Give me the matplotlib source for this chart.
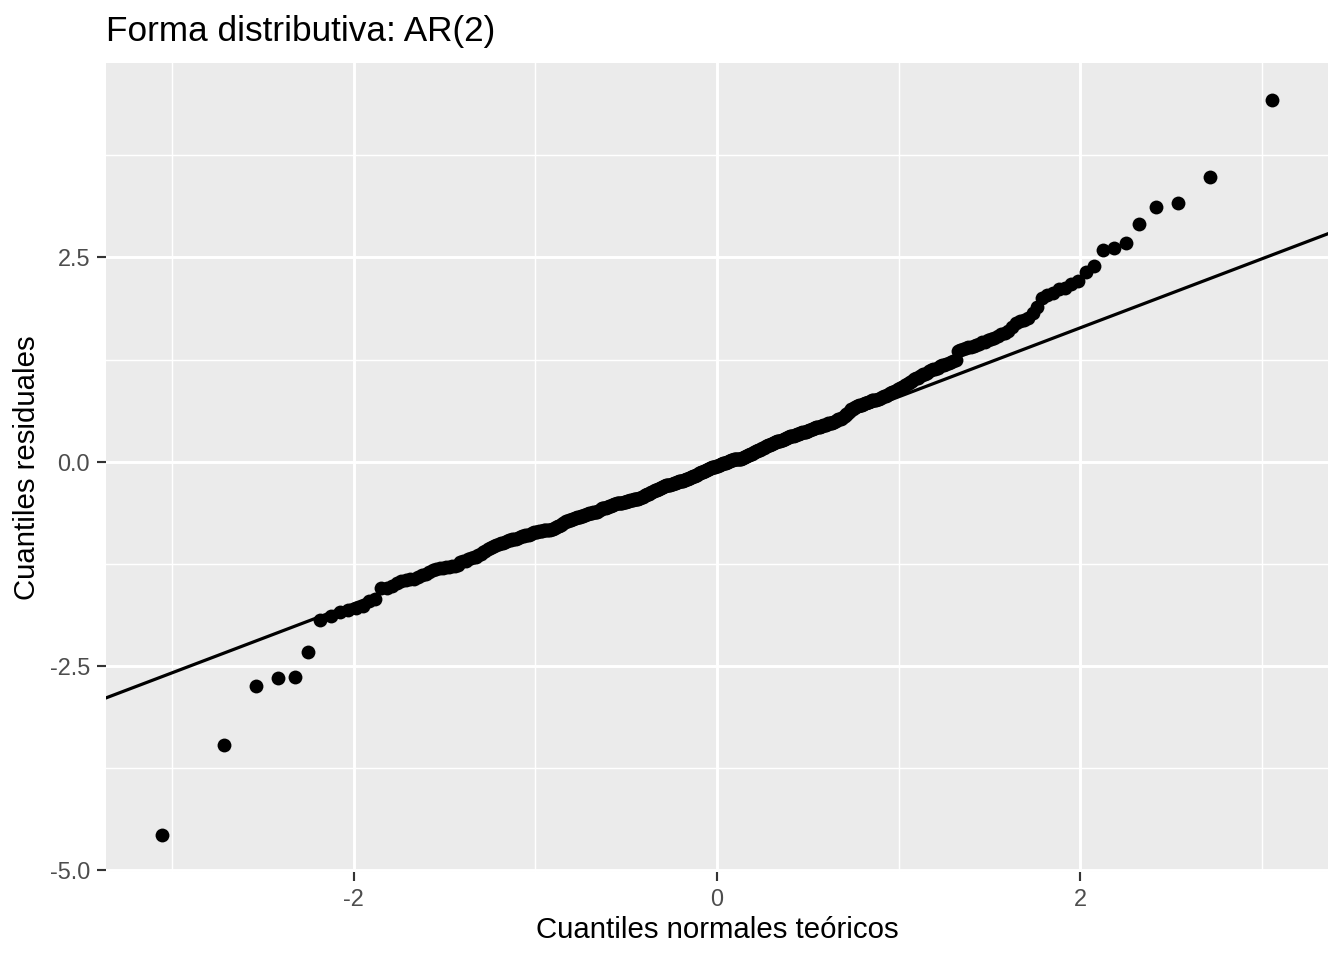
import matplotlib
matplotlib.use("Agg")
import matplotlib.pyplot as plt
import numpy as np
from statistics import NormalDist

# ---- data (sorted residuals) ----
residuales = [
    -4.57, -3.46, -2.74, -2.65, -2.63, -2.33, -1.94, -1.89, -1.84, -1.81,
    -1.79, -1.77, -1.70, -1.68, -1.55, -1.54, -1.52, -1.48, -1.46, -1.45,
    -1.44, -1.43, -1.41, -1.39, -1.37, -1.35, -1.33, -1.31, -1.30, -1.30,
    -1.29, -1.29, -1.28, -1.28, -1.26, -1.23, -1.22, -1.21, -1.19, -1.18,
    -1.17, -1.16, -1.14, -1.13, -1.11, -1.09, -1.07, -1.06, -1.04, -1.03,
    -1.02, -1.01, -1.00, -0.99, -0.98, -0.97, -0.96, -0.96, -0.95, -0.94,
    -0.94, -0.93, -0.92, -0.91, -0.91, -0.90, -0.89, -0.89, -0.88, -0.87,
    -0.865, -0.86, -0.86, -0.85, -0.85, -0.85, -0.84, -0.84, -0.83, -0.83,
    -0.83, -0.82, -0.82, -0.81, -0.80, -0.79, -0.78, -0.77, -0.76, -0.75,
    -0.74, -0.73, -0.72, -0.715, -0.71, -0.70, -0.70, -0.69, -0.69, -0.68,
    -0.68, -0.67, -0.66, -0.66, -0.65, -0.65, -0.64, -0.635, -0.63, -0.63,
    -0.625, -0.62, -0.62, -0.615, -0.61, -0.60, -0.59, -0.58, -0.57, -0.57,
    -0.56, -0.56, -0.55, -0.55, -0.54, -0.54, -0.53, -0.53, -0.52, -0.52,
    -0.51, -0.51, -0.51, -0.50, -0.50, -0.50, -0.49, -0.49, -0.49, -0.48,
    -0.48, -0.48, -0.47, -0.47, -0.47, -0.46, -0.46, -0.45, -0.45, -0.45,
    -0.44, -0.44, -0.43, -0.43, -0.42, -0.41, -0.41, -0.40, -0.39, -0.39,
    -0.38, -0.37, -0.37, -0.36, -0.35, -0.35, -0.34, -0.33, -0.33, -0.32,
    -0.315, -0.31, -0.31, -0.30, -0.30, -0.29, -0.29, -0.29, -0.28, -0.28,
    -0.27, -0.27, -0.26, -0.26, -0.26, -0.25, -0.25, -0.24, -0.24, -0.23,
    -0.23, -0.23, -0.22, -0.22, -0.21, -0.21, -0.21, -0.20, -0.20, -0.19,
    -0.19, -0.18, -0.17, -0.17, -0.16, -0.16, -0.15, -0.14, -0.14, -0.13,
    -0.13, -0.12, -0.11, -0.11, -0.10, -0.10, -0.09, -0.09, -0.08, -0.08,
    -0.07, -0.07, -0.06, -0.06, -0.05, -0.05, -0.04, -0.04, -0.03, -0.03,
    -0.02, -0.02, -0.01, -0.01, 0.00, 0.00, 0.01, 0.01, 0.02, 0.02,
    0.02, 0.03, 0.03, 0.03, 0.03, 0.04, 0.04, 0.04, 0.04, 0.05,
    0.05, 0.06, 0.06, 0.07, 0.07, 0.08, 0.08, 0.09, 0.10, 0.10,
    0.11, 0.12, 0.12, 0.13, 0.13, 0.14, 0.15, 0.15, 0.16, 0.17,
    0.17, 0.18, 0.19, 0.19, 0.20, 0.20, 0.21, 0.22, 0.22, 0.23,
    0.23, 0.24, 0.24, 0.25, 0.25, 0.26, 0.26, 0.27, 0.27, 0.28,
    0.28, 0.29, 0.29, 0.30, 0.30, 0.31, 0.31, 0.32, 0.32, 0.33,
    0.33, 0.335, 0.34, 0.34, 0.35, 0.35, 0.36, 0.36, 0.37, 0.37,
    0.38, 0.38, 0.39, 0.39, 0.40, 0.40, 0.41, 0.41, 0.42, 0.42,
    0.43, 0.43, 0.44, 0.44, 0.45, 0.45, 0.455, 0.46, 0.47, 0.47,
    0.48, 0.48, 0.49, 0.49, 0.50, 0.51, 0.52, 0.52, 0.525, 0.53,
    0.55, 0.56, 0.58, 0.59, 0.61, 0.62, 0.64, 0.65, 0.66, 0.67,
    0.68, 0.685, 0.69, 0.70, 0.70, 0.71, 0.72, 0.72, 0.73, 0.73,
    0.74, 0.75, 0.75, 0.76, 0.76, 0.77, 0.77, 0.78, 0.79, 0.80,
    0.81, 0.82, 0.83, 0.84, 0.85, 0.86, 0.87, 0.88, 0.89, 0.90,
    0.91, 0.92, 0.94, 0.95, 0.97, 0.98, 0.99, 1.01, 1.02, 1.03,
    1.05, 1.06, 1.07, 1.08, 1.09, 1.11, 1.12, 1.13, 1.14, 1.15,
    1.17, 1.18, 1.19, 1.20, 1.21, 1.22, 1.23, 1.25, 1.35, 1.37,
    1.38, 1.39, 1.40, 1.41, 1.42, 1.43, 1.44, 1.46, 1.47, 1.49,
    1.50, 1.52, 1.54, 1.56, 1.58, 1.60, 1.65, 1.70, 1.72, 1.74,
    1.76, 1.82, 1.90, 2.00, 2.04, 2.07, 2.11, 2.13, 2.18, 2.21,
    2.32, 2.40, 2.59, 2.61, 2.68, 2.91, 3.12, 3.17, 3.48, 4.43,
]

titulo = "Forma distributiva: AR(2)"
x_titulo = "Cuantiles normales teóricos"
y_titulo = "Cuantiles residuales"
x_ticks = [-2, 0, 2]
x_ticklabels = ["-2", "0", "2"]
y_ticks = [-5.0, -2.5, 0.0, 2.5]
y_ticklabels = ["-5.0", "-2.5", "0.0", "2.5"]
x_minor = [-3, -1, 1, 3]
y_minor = [-3.75, -1.25, 1.25, 3.75]

# ---- stat_qq: theoretical quantiles ----
sample = np.sort(np.array(residuales))
n = len(sample)
nd = NormalDist()
theo = np.array([nd.inv_cdf((i - 0.5) / n) for i in range(1, n + 1)])

# qq line through quartiles
q1, q3 = np.quantile(sample, [0.25, 0.75])
t1, t3 = nd.inv_cdf(0.25), nd.inv_cdf(0.75)
slope = (q3 - q1) / (t3 - t1)
intercept = q1 - slope * t1

plt.rcParams["font.family"] = ["Liberation Sans", "DejaVu Sans"]
plt.rcParams["axes.unicode_minus"] = False

W, H = 1344, 960
fig = plt.figure(figsize=(7, 5), dpi=192)
L, R, T, B = 106, 1328, 63, 872
ax = fig.add_axes([L / W, 1 - B / H, (R - L) / W, (B - T) / H])
ax.set_facecolor("#EBEBEB")
for s in ax.spines.values():
    s.set_visible(False)

# limits with 5% expansion like ggplot
xr = theo.max() - theo.min()
yr = sample.max() - sample.min()
xlim = (theo.min() - 0.05 * xr, theo.max() + 0.05 * xr)
ylim = (sample.min() - 0.05 * yr, sample.max() + 0.05 * yr)
ax.set_xlim(*xlim)
ax.set_ylim(*ylim)

# grid
for v in x_minor:
    ax.axvline(v, color="white", lw=0.55, zorder=0.5)
for v in y_minor:
    ax.axhline(v, color="white", lw=0.55, zorder=0.5)
for v in x_ticks:
    ax.axvline(v, color="white", lw=1.1, zorder=0.6)
for v in y_ticks:
    ax.axhline(v, color="white", lw=1.1, zorder=0.6)

ax.scatter(theo, sample, s=27, color="black", linewidths=0, zorder=3)
xx = np.array(xlim)
ax.plot(xx, intercept + slope * xx, color="black", lw=1.2, zorder=2)

ax.set_xticks(x_ticks)
ax.set_xticklabels(x_ticklabels)
ax.set_yticks(y_ticks)
ax.set_yticklabels(y_ticklabels)
ax.tick_params(axis="both", length=3.5, width=0.8, color="#333333",
               labelcolor="#4D4D4D", labelsize=8.8, pad=2.5)

fig.text(L / W, 1 - 41 / H, titulo, fontsize=13.2, ha="left", va="baseline",
         color="black")
fig.text((L + R) / 2 / W, 1 - 938 / H, x_titulo, fontsize=11, ha="center",
         va="baseline", color="black")
fig.text(27 / W, 1 - (T + B) / 2 / H, y_titulo, fontsize=11, ha="center",
         va="center", rotation=90, color="black")

fig.savefig("out.png", dpi=192, facecolor="white")
